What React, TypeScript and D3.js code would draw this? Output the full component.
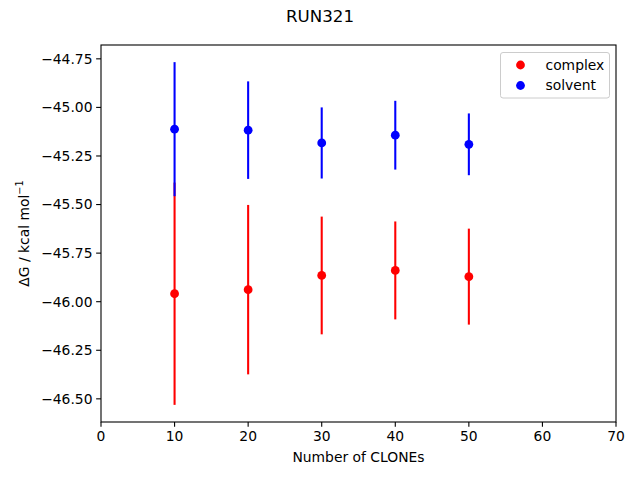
import React from "react";
import * as d3 from "d3";

const clones = [10, 20, 30, 40, 50];
const complexMean = [-45.959, -45.938, -45.865, -45.839, -45.871];
const complexErr = [0.572, 0.436, 0.303, 0.252, 0.247];
const solventMean = [-45.112, -45.117, -45.183, -45.143, -45.19];
const solventErr = [0.345, 0.251, 0.183, 0.177, 0.159];
const xTicks = [0, 10, 20, 30, 40, 50, 60, 70];
const yTicks = [-44.75, -45.0, -45.25, -45.5, -45.75, -46.0, -46.25, -46.5];
const seriesNames = ["complex", "solvent"];
const seriesColors = ["#ff0000", "#0000ff"];

const W = 640;
const H = 480;
const left = 101;
const right = 616;
const top = 45;
const bottom = 422;
const font = "DejaVu Sans, sans-serif";

export default function App() {
  const allLo = [
    ...complexMean.map((m, i) => m - complexErr[i]),
    ...solventMean.map((m, i) => m - solventErr[i]),
  ];
  const allHi = [
    ...complexMean.map((m, i) => m + complexErr[i]),
    ...solventMean.map((m, i) => m + solventErr[i]),
  ];
  const lo = d3.min(allLo)!;
  const hi = d3.max(allHi)!;
  const pad = (hi - lo) * 0.05;
  const x = d3.scaleLinear().domain([0, 70]).range([left, right]);
  const y = d3.scaleLinear().domain([lo - pad, hi + pad]).range([bottom, top]);
  const fmt = (v: number) => d3.format(".2f")(v).replace("-", "\u2212");

  const series = [
    { name: seriesNames[0], color: seriesColors[0], mean: complexMean, err: complexErr },
    { name: seriesNames[1], color: seriesColors[1], mean: solventMean, err: solventErr },
  ];

  return (
    <svg width={W} height={H} style={{ display: "block", position: "absolute", left: 0, top: 0 }} fontFamily={font}>
      <rect x={0} y={0} width={W} height={H} fill="#fff" />
      <text x={W / 2} y={22} textAnchor="middle" fontSize={16.67} fill="#000">RUN321</text>
      {series.map((s) => (
        <g key={s.name}>
          {clones.map((c, i) => (
            <line key={"e" + i} x1={x(c)} x2={x(c)} y1={y(s.mean[i] - s.err[i])} y2={y(s.mean[i] + s.err[i])} stroke={s.color} strokeWidth={2.08} />
          ))}
          {clones.map((c, i) => (
            <circle key={"p" + i} cx={x(c)} cy={y(s.mean[i])} r={4.4} fill={s.color} />
          ))}
        </g>
      ))}
      <rect x={left} y={top} width={right - left} height={bottom - top} fill="none" stroke="#000" strokeWidth={1.1} />
      {xTicks.map((t) => (
        <g key={"x" + t}>
          <line x1={x(t)} x2={x(t)} y1={bottom} y2={bottom + 4.86} stroke="#000" strokeWidth={1.1} />
          <text x={x(t)} y={bottom + 19} textAnchor="middle" fontSize={13.89} fill="#000">{t}</text>
        </g>
      ))}
      {yTicks.map((t) => (
        <g key={"y" + t}>
          <line x1={left - 4.86} x2={left} y1={y(t)} y2={y(t)} stroke="#000" strokeWidth={1.1} />
          <text x={left - 8.5} y={y(t)} dy="0.35em" textAnchor="end" fontSize={13.89} fill="#000">{fmt(t)}</text>
        </g>
      ))}
      <text x={(left + right) / 2} y={462} textAnchor="middle" fontSize={13.89} fill="#000">Number of CLONEs</text>
      <text transform={`translate(28.5,${(top + bottom) / 2}) rotate(-90)`} textAnchor="middle" fontSize={13.89} fill="#000">
        ΔG / kcal mol<tspan fontSize={9.7} dy={-5.5}>−1</tspan>
      </text>
      <g>
        <rect x={500.5} y={52.5} width={109} height={45.5} rx={2.5} fill="#fff" fillOpacity={0.8} stroke="#cccccc" strokeWidth={1} />
        {series.map((s, i) => (
          <g key={"l" + s.name}>
            <circle cx={520.5} cy={65 + i * 20.5} r={4.4} fill={s.color} />
            <text x={545.5} y={65 + i * 20.5} dy="0.35em" fontSize={13.89} fill="#000">{s.name}</text>
          </g>
        ))}
      </g>
    </svg>
  );
}
